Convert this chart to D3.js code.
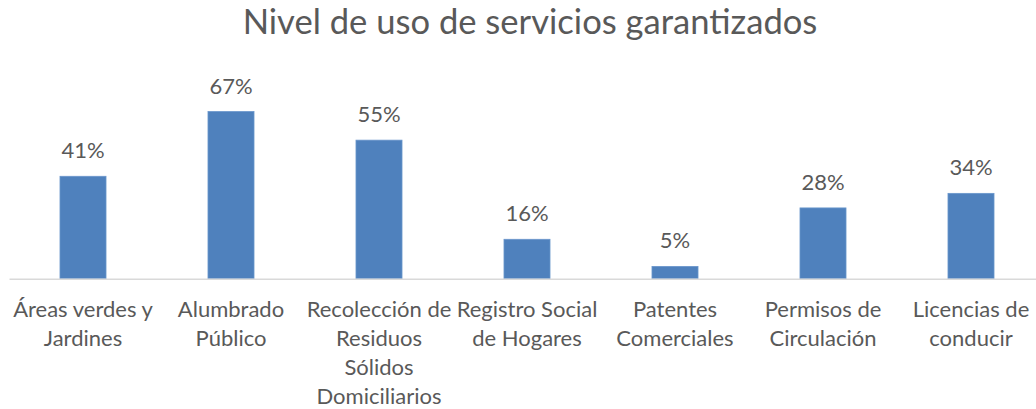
<!DOCTYPE html>
<meta charset="utf-8">
<style>
body { margin: 0; background: #fff; }
svg text { font-family: Lato, "Noto Sans", sans-serif; fill: #595959; }
.axis path { stroke: #d9d9d9; stroke-width: 1.5px; }
</style>
<svg width="1036" height="409"></svg>
<script src="https://d3js.org/d3.v7.min.js"></script>
<script>

var title = "Nivel de uso de servicios garantizados";

var categories = [
  "Áreas verdes y Jardines",
  "Alumbrado Público",
  "Recolección de Residuos Sólidos Domiciliarios",
  "Registro Social de Hogares",
  "Patentes Comerciales",
  "Permisos de Circulación",
  "Licencias de conducir"
];

// how each category label is broken in the picture
var labelLines = [
  ["Áreas verdes y", "Jardines"],
  ["Alumbrado", "Público"],
  ["Recolección de", "Residuos", "Sólidos", "Domiciliarios"],
  ["Registro Social", "de Hogares"],
  ["Patentes", "Comerciales"],
  ["Permisos de", "Circulación"],
  ["Licencias de", "conducir"]
];

var values = [0.408, 0.666, 0.552, 0.157, 0.049, 0.282, 0.340];

var svg = d3.select("svg"),
    width = +svg.attr("width"),
    height = +svg.attr("height");

var x = d3.scaleBand()
    .domain(categories)
    .range([9, 1045])
    .paddingInner(0.689)
    .paddingOuter(0.689 / 2);

var y = d3.scaleLinear()
    .domain([0, 0.7])
    .range([278.7, 103]);

var fmt = d3.format(".0%");

svg.append("text")
    .attr("x", 530)
    .attr("y", 34)
    .attr("text-anchor", "middle")
    .style("font-size", "34.6px")
    .text(title);

svg.append("g")
    .attr("class", "bars")
  .selectAll("rect")
  .data(values)
  .enter().append("rect")
    .attr("x", function(d, i) { return x(categories[i]); })
    .attr("y", function(d) { return y(d); })
    .attr("width", x.bandwidth())
    .attr("height", function(d) { return y(0) - y(d); })
    .attr("fill", "#4f81bd")
    .attr("stroke", "#6a96cc")
    .attr("stroke-width", 0.8);

svg.append("g")
    .attr("class", "labels")
  .selectAll("text")
  .data(values)
  .enter().append("text")
    .attr("x", function(d, i) { return x(categories[i]) + x.bandwidth() / 2; })
    .attr("y", function(d) { return y(d) - 18; })
    .attr("text-anchor", "middle")
    .style("font-size", "22px")
    .text(function(d) { return fmt(d); });

var axis = svg.append("g")
    .attr("class", "axis")
    .attr("transform", "translate(0," + y(0) + ")")
    .call(d3.axisBottom(x).tickSize(0).tickSizeOuter(0).tickFormat(""));

axis.selectAll(".tick text").remove();

axis.selectAll(".tick")
  .append("text")
    .attr("text-anchor", "middle")
    .style("font-size", "22px")
    .each(function(d, i) {
      var t = d3.select(this);
      labelLines[i].forEach(function(line, k) {
        t.append("tspan")
          .attr("x", 0)
          .attr("y", 38 + k * 29)
          .text(line);
      });
    });

</script>
